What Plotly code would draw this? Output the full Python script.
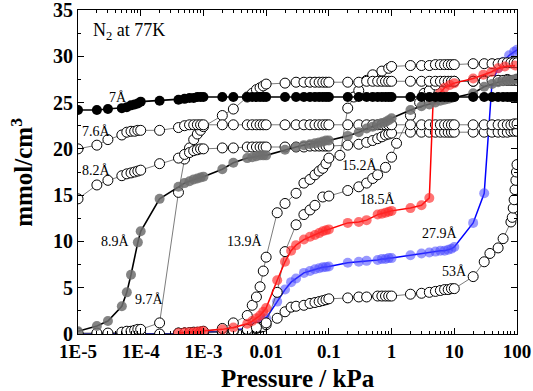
import math
import plotly.graph_objects as go

# ---------------- data ----------------
p7 = [1e-5,2e-5,3e-5,5e-5,6e-5,7e-5,8e-5,9e-5,1e-4,2e-4,4e-4,5e-4,6e-4,7e-4,8e-4,9e-4,1e-3,
      2e-3,3e-3,5e-3,6e-3,7e-3,8e-3,9e-3,0.01,0.02,0.03,0.04,0.05,0.06,0.07,0.08,0.09,0.1,
      0.2,0.3,0.4,0.5,0.6,0.7,0.8,0.9,1,2,3,4,5,6,7,8,9,10,20,30,40,50,60,70,80,90,100]
v7 = [24.2,24.2,24.3,24.4,24.5,24.7,24.8,24.9,25.1,25.2,25.3,25.4,25.5,25.5,25.6,25.6,25.6,
      25.6,25.6,25.6,25.6,25.6,25.6,25.6,25.6,25.6,25.6,25.6,25.6,25.6,25.6,25.6,25.6,25.6,
      25.6,25.6,25.6,25.6,25.6,25.6,25.6,25.6,25.6,25.6,25.6,25.6,25.6,25.6,25.6,25.6,25.6,25.6,
      25.6,25.6,25.6,25.6,25.6,25.6,25.6,25.6,25.6]

p76 = p7
v76 = [20.0,20.4,21.0,21.5,21.8,21.9,21.9,22.0,22.0,22.0,22.3,22.5,22.6,22.6,22.6,22.6,22.6,
       22.6,22.6,22.6,22.6,22.6,22.6,22.6,22.6,22.6,22.6,22.6,22.6,22.6,22.6,22.6,22.6,22.6,
       22.6,22.6,22.6,22.6,22.6,22.6,22.6,22.6,22.6,22.6,22.6,22.6,22.6,22.6,22.6,22.6,22.6,22.6,
       22.6,22.6,22.6,22.6,22.6,22.6,22.6,22.7,22.7]

p82 = p7
v82 = [14.6,16.1,16.6,17.1,17.3,17.4,17.5,17.6,17.7,18.4,19.0,19.4,19.6,19.8,19.9,20.0,20.0,
       20.1,20.1,20.2,20.2,20.2,20.2,20.2,20.2,20.2,20.2,20.2,20.3,20.3,20.3,20.3,20.3,20.3,
       20.4,20.5,20.7,20.9,21.1,21.3,21.5,21.6,21.7,21.8,21.8,21.8,21.8,21.8,21.8,21.8,21.8,21.8,
       21.8,21.8,21.8,21.8,21.8,21.8,21.9,21.9,21.9]

p89 = [1e-5,2e-5,3e-5,5e-5,6e-5,7e-5,9e-5,1e-4,2e-4,4e-4,5e-4,6e-4,7e-4,8e-4,9e-4,1e-3,
       2e-3,3e-3,5e-3,6e-3,7e-3,8e-3,9e-3,0.01,0.02,0.03,0.04,0.05,0.06,0.07,0.08,0.09,0.1,
       0.2,0.3,0.4,0.5,0.6,0.7,0.8,0.9,1,2,3,4,5,6,7,8,9,10,20,30,40,50,60,70,80,90,100]
v89 = [0.3,0.86,1.4,3.0,4.5,6.4,9.9,11.1,14.6,15.9,16.3,16.5,16.7,16.8,16.9,17.0,
       17.8,18.5,19.0,19.1,19.2,19.3,19.3,19.3,19.9,20.2,20.4,20.5,20.6,20.7,20.8,20.9,20.9,
       21.4,21.8,22.2,22.4,22.6,22.8,22.9,23.1,23.3,24.2,24.6,24.8,25.0,25.2,25.3,25.4,25.5,25.6,
       26.0,26.7,27.0,27.2,27.3,27.4,27.4,27.5,27.6]

p97 = p7
v97 = [0.1,0.1,0.1,0.2,0.3,0.3,0.4,0.5,0.5,1.2,15.3,18.9,20.1,21.0,21.6,22.0,22.4,
       23.6,24.3,25.6,26.0,26.4,26.6,26.8,27.0,27.1,27.2,27.2,27.2,27.2,27.2,27.2,27.2,27.2,
       27.2,27.2,27.3,27.3,27.3,27.3,27.3,27.3,27.3,27.3,27.3,27.3,27.3,27.3,27.3,27.3,27.3,27.3,
       27.3,27.3,27.4,27.4,27.4,27.4,27.4,27.4,27.4]

p139 = [4e-4,5e-4,6e-4,7e-4,8e-4,9e-4,1e-3,2e-3,3e-3,5e-3,6e-3,7e-3,8e-3,9e-3,0.01,0.015,
        0.02,0.03,0.04,0.05,0.06,0.07,0.08,0.09,0.1,0.15,0.2,0.25,0.3,0.4,0.5,0.7,0.9,1,
        2,3,4,5,6,7,8,9,10,20,30,40,50,60,70,80,90,100]
v139 = [0.1,0.1,0.15,0.2,0.2,0.2,0.3,0.6,1.2,2.0,3.1,4.0,5.1,6.8,8.3,13.1,
        14.1,15.2,16.3,16.7,17.2,17.6,17.9,18.4,19.0,19.3,24.4,25.6,26.3,27.4,28.0,28.4,28.7,28.9,
        29.0,29.0,29.0,29.1,29.1,29.1,29.1,29.1,29.1,29.2,29.2,29.2,29.2,29.3,29.3,29.3,29.3,29.3]

p152 = [4e-4,5e-4,6e-4,7e-4,8e-4,9e-4,1e-3,2e-3,3e-3,5e-3,7e-3,0.01,0.015,0.02,0.03,0.04,
        0.05,0.06,0.08,0.1,0.2,0.3,0.4,0.5,0.6,0.8,1,1.2,2,2.8,3.3,4,5,7,10,20,30,50,70,100]
v152 = [0.1,0.1,0.1,0.15,0.15,0.2,0.2,0.3,0.4,0.5,0.7,1.2,4.5,8.9,11.8,12.9,
        13.4,13.9,14.8,14.9,15.5,15.9,16.3,16.8,17.2,18.0,19.1,20.6,23.6,25.0,26.0,26.3,26.9,27.2,27.3,27.3,27.4,27.4,27.5,27.5]

p185 = [4e-4,5e-4,6e-4,7e-4,8e-4,9e-4,1e-3,2e-3,3e-3,5e-3,6e-3,7e-3,8e-3,9e-3,0.01,0.015,
        0.02,0.025,0.03,0.04,0.05,0.06,0.07,0.08,0.09,0.1,0.2,0.3,0.4,0.6,0.7,0.8,0.9,1,
        2,3,4,4.6,5.9,7,8.5,10,20,29,39,50,64,93]
v185 = [0.1,0.15,0.2,0.2,0.25,0.3,0.3,0.5,0.7,1.1,1.4,1.7,2.0,2.4,2.8,5.8,
        7.8,9.0,9.6,10.2,10.5,10.7,10.9,11.1,11.2,11.3,12.0,12.1,12.3,12.9,13.0,13.1,13.2,13.3,
        13.6,13.9,14.7,25.2,26.0,26.6,26.9,27.1,27.6,28.0,28.3,28.7,28.9,29.0]

p279 = [1e-5,2e-5,3e-5,5e-5,6e-5,7e-5,8e-5,1e-4,2e-4,4e-4,5e-4,6e-4,7e-4,8e-4,9e-4,1e-3,
        2e-3,3e-3,5e-3,6e-3,7e-3,8e-3,9e-3,0.01,0.015,0.02,0.025,0.03,0.04,0.05,0.06,0.07,
        0.08,0.09,0.1,0.2,0.3,0.4,0.6,0.7,0.8,0.9,1,2,3,4,5,6,7,8,9,10,20,30,40,50,60,75,90,100]
v279 = [0.0,0.0,0.0,0.0,0.0,0.0,0.0,0.0,0.0,0.05,0.1,0.1,0.15,0.15,0.2,0.2,
        0.3,0.4,0.6,0.8,0.9,1.1,1.4,1.7,3.5,4.8,5.6,6.0,6.6,6.8,7.0,7.1,
        7.2,7.25,7.3,7.7,7.8,7.9,8.0,8.1,8.1,8.2,8.2,8.5,8.7,8.8,8.9,9.0,9.0,9.1,9.2,9.4,12.0,15.2,27.2,28.7,29.4,30.1,30.5,30.7]

p53 = [1e-5,2e-5,3e-5,5e-5,6e-5,7e-5,8e-5,1e-4,2e-4,4e-4,5e-4,6e-4,7e-4,8e-4,9e-4,1e-3,
       2e-3,3e-3,5e-3,6e-3,7e-3,8e-3,9e-3,0.01,0.015,0.02,0.025,0.03,0.04,0.05,0.06,0.07,
       0.08,0.09,0.1,0.2,0.3,0.4,0.6,0.7,0.8,0.9,1,2,3,4,5,6,7,8,9,10,20,30,37,50,60,
       80,84,87,90,93,96,98,100]
v53 = [0.0,0.0,0.0,0.0,0.0,0.0,0.0,0.0,0.0,0.05,0.1,0.1,0.1,0.1,0.1,0.1,
       0.2,0.3,0.4,0.5,0.6,0.7,0.8,1.0,1.7,2.4,2.9,3.0,3.1,3.3,3.4,3.5,
       3.6,3.7,3.8,3.9,4.0,4.0,4.1,4.1,4.1,4.1,4.1,4.3,4.4,4.5,4.6,4.7,4.8,4.8,4.9,4.9,6.2,7.8,8.7,9.3,10.3,
       12.1,12.6,13.6,14.5,15.6,16.6,17.5,18.3]

labels = ["7Å", "7.6Å", "8.2Å", "8.9Å", "9.7Å", "13.9Å", "15.2Å", "18.5Å", "27.9Å", "53Å"]
label_x = [4.4e-5, 2.0e-5, 2.0e-5, 4.0e-5, 1.4e-4, 4.6e-3, 0.31, 0.61, 5.9, 9.9]
label_y = [25.6, 21.9, 17.7, 10.0, 3.7, 10.0, 18.2, 14.5, 10.9, 6.7]

x_tickvals = [1e-5, 1e-4, 1e-3, 0.01, 0.1, 1, 10, 100]
x_ticktext = ["1E-5", "1E-4", "1E-3", "0.01", "0.1", "1", "10", "100"]
y_tickvals = [0, 5, 10, 15, 20, 25, 30, 35]

# ---------------- figure ----------------
fig = go.Figure()
SERIF = "Liberation Serif, Times New Roman, serif"
MS = 10

def open_series(p, v):
    fig.add_trace(go.Scatter(
        x=p, y=v, mode="lines+markers",
        line=dict(color="#444444", width=0.7),
        marker=dict(symbol="circle", size=MS, color="white",
                    line=dict(color="black", width=1)),
        showlegend=False))

def filled_series(p, v, fill, lcolor, lw):
    fig.add_trace(go.Scatter(
        x=p, y=v, mode="lines+markers",
        line=dict(color=lcolor, width=lw),
        marker=dict(symbol="circle", size=MS, color=fill, line=dict(width=0)),
        showlegend=False))

filled_series(p279, v279, "rgba(70,70,255,0.55)", "blue", 1.5)
open_series(p53, v53)
open_series(p152, v152)
open_series(p139, v139)
open_series(p97, v97)
open_series(p82, v82)
open_series(p76, v76)
filled_series(p185, v185, "rgba(255,40,40,0.65)", "red", 1.5)
filled_series(p89, v89, "rgba(110,110,110,0.85)", "black", 1.6)
filled_series(p7, v7, "black", "black", 1.6)

for t, lx, ly in zip(labels, label_x, label_y):
    fig.add_annotation(x=math.log10(lx), y=ly, text=t, showarrow=False,
                       xref="x", yref="y",
                       font=dict(family=SERIF, size=14, color="black"))

fig.add_annotation(x=0.03, y=0.975, xref="paper", yref="paper", xanchor="left", yanchor="top",
                   text="N<sub>2</sub> at 77K", showarrow=False,
                   font=dict(family=SERIF, size=18, color="black"))

# axis titles as annotations (pixel-placed via paper coords)
fig.add_annotation(x=0.5, y=-0.138, xref="paper", yref="paper", xanchor="center", yanchor="middle",
                   text="<b>Pressure / kPa</b>", showarrow=False,
                   font=dict(family=SERIF, size=25, color="black"))
fig.add_annotation(x=-0.128, y=0.5, xref="paper", yref="paper", xanchor="center", yanchor="middle",
                   text="<b>mmol/cm<sup>3</sup></b>", showarrow=False, textangle=-90,
                   font=dict(family=SERIF, size=25, color="black"))

minor_x = []
for dec in [1e-5, 1e-4, 1e-3, 1e-2, 1e-1, 1, 10]:
    for m in range(2, 10):
        minor_x.append(dec * m)

fig.update_layout(
    width=533, height=391,
    margin=dict(l=78, r=16, t=10, b=57),
    paper_bgcolor="white", plot_bgcolor="white",
    font=dict(family=SERIF, color="black"),
    xaxis=dict(type="log", range=[-5, 2], tickvals=x_tickvals, ticktext=x_ticktext,
               automargin=False, ticklabeloverflow="allow",
               ticks="inside", ticklen=6, tickwidth=1, tickcolor="black",
               showline=True, linecolor="black", linewidth=1.2, mirror="ticks",
               showgrid=False, zeroline=False,
               tickfont=dict(family=SERIF, size=19, color="black", weight="bold"),
               minor=dict(ticks="inside", ticklen=3, tickvals=minor_x, tickcolor="black", showgrid=False)),
    yaxis=dict(range=[0, 35], tickvals=y_tickvals,
               automargin=False, ticklabeloverflow="allow",
               ticks="inside", ticklen=6, tickwidth=1, tickcolor="black",
               showline=True, linecolor="black", linewidth=1.2, mirror="ticks",
               showgrid=False, zeroline=False,
               tickfont=dict(family=SERIF, size=20, color="black", weight="bold"),
               minor=dict(ticks="inside", ticklen=3, dtick=2.5, tick0=0, tickcolor="black", showgrid=False)),
)

fig.write_html("out.html", config={"displayModeBar": False},
               post_script="document.body.style.margin='0px';")
